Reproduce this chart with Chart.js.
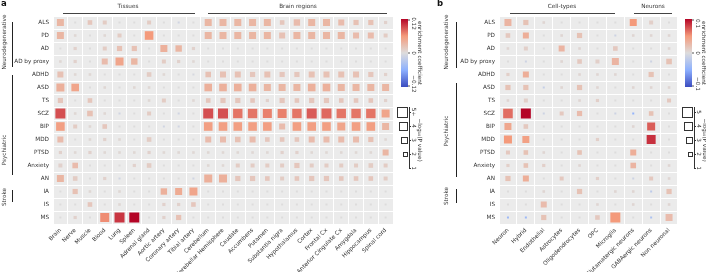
<!DOCTYPE html>
<html>
<head>
<meta charset="utf-8">
<script src="https://cdn.jsdelivr.net/npm/chart.js@4/dist/chart.umd.min.js"></script>
<style>
  body { margin: 0; background: #fff; width: 706px; height: 272px; position: relative; overflow: hidden; }
  #wrap-a { position: absolute; left: 0; top: 0; width: 432px; height: 272px; }
  #wrap-b { position: absolute; left: 432px; top: 0; width: 274px; height: 272px; }
</style>
</head>
<body>
<div id="wrap-a"><canvas id="chart-a"></canvas></div>
<div id="wrap-b"><canvas id="chart-b"></canvas></div>
<script>
const traits = ["ALS", "PD", "AD", "AD by proxy", "ADHD", "ASD", "TS", "SCZ", "BIP", "MDD", "PTSD", "Anxiety", "AN", "IA", "IS", "MS"];

const tissues = ["Brain", "Nerve", "Muscle", "Blood", "Lung", "Spleen", "Adrenal gland", "Aortic artery", "Coronary artery", "Tibial artery",
  "Cerebellum", "Cerebellar Hemisphere", "Caudate", "Accumbens", "Putamen", "Substantia nigra", "Hypothalamus", "Cortex",
  "Frontal Cx", "Anterior Cingulate Cx", "Amygdala", "Hippocampus", "Spinal cord"];

const cellTypes = ["Neuron", "Hybrid", "Endothelial", "Astrocytes", "Oligodendrocytes", "OPC", "Microglia",
  "Glutamatergic neurons", "GABAergic neurons", "Non neuronal"];

// -log10(P) per trait (rows) and tissue (columns)
const tissueLogP = [
  [3.5, 1, 2.3, 2, 1, 1, 2, 1, 1, 1, 3.5, 3.5, 3.5, 3.5, 3.5, 2.3, 3.2, 3.5, 3.5, 3, 2.6, 2.6, 1.6],
  [3.5, 1.3, 1, 1.3, 2, 1, 4.3, 1, 1, 1, 3.5, 3.5, 3.5, 3.5, 3.5, 3, 3.5, 3.5, 3.5, 3.5, 3, 3, 2],
  [1, 1.6, 1, 2, 2.6, 2.6, 1, 3.5, 3.2, 1.6, 1, 1, 1, 1, 1, 1, 1, 1, 1, 1, 1, 1, 1],
  [1.3, 1.6, 1, 3, 4, 3.2, 1, 2, 1.6, 1.3, 1, 1, 1, 1, 1, 1, 1, 1, 1, 1, 1, 1, 1],
  [3, 1.3, 1.3, 1, 1, 1, 2.3, 1.3, 1, 1, 2.8, 3, 3, 2.6, 3, 2.6, 2.6, 3, 3, 3, 3, 2.6, 1.6],
  [4, 3.8, 1, 1.3, 1, 1.3, 1.3, 1, 1, 1, 3.8, 3.8, 3.8, 3.8, 3.5, 3.5, 3.5, 3.8, 3.8, 3.5, 3.5, 3.5, 3.5],
  [2.6, 1, 2.3, 1, 1, 1, 1.3, 2, 1, 1.3, 2.3, 2.6, 2.6, 2.3, 1.6, 2.6, 2.3, 2.6, 2.6, 2.3, 2.3, 2.3, 1.6],
  [5.5, 1.3, 2.8, 1.3, 1, 1, 2, 1, 1, 1, 5.5, 5.5, 4.7, 4.7, 4.5, 4.5, 4.7, 5.5, 5, 4.7, 4.7, 4.7, 4],
  [4.3, 2, 1.3, 2.3, 1, 1, 1, 1, 1, 1, 4.3, 4.3, 4.3, 4.3, 4.3, 3, 4.3, 4.3, 4.3, 4, 4.3, 4.3, 3.5],
  [3, 1, 1.3, 1.6, 1.3, 1, 2.3, 1, 1, 1, 3, 3, 2.8, 3, 2.3, 2.3, 2.3, 3, 3, 3, 3, 2.6, 1.3],
  [1.6, 1.3, 1.6, 1.3, 1.3, 1.3, 1.6, 1.3, 1.3, 1.3, 1.3, 1.3, 1.3, 1.3, 1.3, 1.6, 1.6, 1.3, 1.3, 1.3, 1.3, 1.3, 3],
  [2, 2.8, 1, 1, 1, 1.6, 2.3, 1, 1, 1, 1.3, 1.3, 2, 2, 2, 2, 2.6, 2, 2, 2, 2, 2.3, 2],
  [3.5, 2.3, 1, 1.6, 1, 1, 1, 1, 1, 1, 4, 4, 2.6, 2.6, 2.3, 2, 2.3, 2.6, 2.6, 2.3, 2.3, 2.3, 2],
  [1, 2.6, 1.3, 1, 1.3, 1, 1, 3.2, 3.5, 4, 1, 1, 1, 1, 1, 1, 1, 1, 1, 1, 1, 1, 1],
  [1, 1, 2.3, 1, 1.3, 1, 1, 1.6, 1.6, 2.3, 1, 1, 1, 1, 1, 1, 1, 1, 1, 1, 1, 1, 1],
  [1, 1.6, 1, 4.5, 5, 5, 1, 1.6, 2.6, 1, 1, 1, 1, 1, 1, 1, 1, 1, 1, 1, 1, 1, 1],
];

// enrichment coefficient per trait and tissue
const tissueCoef = [
  [.035, 0, .02, .015, 0, 0, .015, 0, -.01, 0, .035, .035, .035, .035, .035, .02, .03, .035, .035, .03, .025, .025, .01],
  [.035, .005, 0, .005, .015, 0, .06, 0, 0, 0, .035, .035, .035, .035, .035, .025, .035, .035, .035, .035, .03, .03, .015],
  [0, .01, 0, .015, .025, .025, 0, .04, .035, .01, 0, 0, 0, 0, 0, 0, 0, 0, 0, 0, 0, 0, 0],
  [.005, .01, 0, .03, .05, .035, 0, .015, .01, .005, 0, 0, 0, 0, 0, 0, 0, 0, 0, 0, 0, 0, 0],
  [.025, .005, .005, 0, 0, 0, .015, .005, 0, -.005, .025, .025, .025, .02, .025, .02, .02, .025, .025, .025, .025, .02, .01],
  [.04, .05, 0, .005, 0, .005, .005, 0, 0, 0, .04, .04, .04, .04, .035, .035, .035, .04, .04, .035, .035, .035, .035],
  [.02, 0, .02, 0, 0, 0, .005, .015, 0, .005, .02, .02, .02, .02, .01, .02, .02, .02, .02, .02, .02, .02, .01],
  [.09, .005, .025, .005, -.01, 0, .015, 0, -.01, 0, .09, .09, .075, .075, .07, .07, .075, .085, .08, .075, .075, .075, .05],
  [.055, .015, .005, .02, 0, 0, 0, -.01, -.01, 0, .055, .055, .055, .055, .055, .03, .055, .055, .055, .05, .055, .055, .035],
  [.03, 0, .005, .01, .005, 0, .015, 0, 0, 0, .03, .03, .025, .03, .02, .02, .02, .03, .03, .03, .03, .025, .005],
  [.01, .005, .01, .005, .005, .005, .01, .005, .005, .005, .005, .005, .005, .005, .005, .01, .01, .005, .005, .005, .005, .005, .035],
  [.01, .03, 0, 0, 0, .01, .015, 0, 0, 0, .005, .005, .015, .015, .015, .015, .02, .015, .015, .015, .015, .015, .015],
  [.035, .015, 0, .01, -.01, 0, 0, 0, 0, -.01, .04, .04, .02, .02, .02, .015, .02, .02, .02, .02, .02, .02, .015],
  [0, .025, .005, 0, .005, 0, 0, .04, .045, .05, 0, 0, 0, 0, 0, 0, 0, 0, 0, 0, 0, 0, 0],
  [0, 0, .02, 0, .005, 0, 0, .01, .01, .02, 0, 0, 0, 0, 0, 0, 0, 0, 0, 0, 0, 0, 0],
  [0, .01, 0, .065, .1, .12, 0, .01, .025, 0, 0, 0, 0, 0, 0, 0, 0, 0, 0, 0, 0, 0, 0],
];

const cellLogP = [
  [3.5, 2.6, 1.3, 1, 1, 1, 1, 3.5, 2, 1],
  [2.3, 3, 1, 1.3, 2.6, 1, 1, 1.3, 1.3, 1.3],
  [1.3, 2, 1, 3, 1.3, 1, 2.3, 1, 1, 1.3],
  [1, 1, 1, 1.3, 2.3, 2, 3.5, 1, 1, 2.8],
  [1.6, 3, 1, 1, 1.3, 1.3, 1.3, 1, 2.6, 1],
  [2.6, 2.6, 1, 1.3, 2.6, 1.3, 1, 1.3, 1.3, 1.3],
  [1.3, 2, 1, 1, 1.3, 1.6, 1, 1, 1, 2],
  [4.8, 5.5, 1, 2, 2.6, 1, 1, 1, 2.3, 1],
  [3.5, 2.3, 1, 1, 1, 1, 1, 1.3, 4, 1],
  [4, 3.5, 1, 1, 1, 1.6, 1, 1, 4.5, 1],
  [2, 2.3, 1.3, 1, 2.3, 1, 1, 3, 1, 1],
  [1.6, 2.3, 1.6, 1, 1.3, 1, 1, 2.8, 1, 1.3],
  [2.6, 3, 1, 2, 1, 1.6, 1, 1, 2, 1.3],
  [1, 1, 1.3, 1, 2.6, 1, 1.3, 1.3, 1, 2.6],
  [1, 1, 3, 1, 1, 1.3, 1, 1.3, 1, 1.3],
  [1, 1, 2.6, 1, 1, 2.3, 5, 1, 1, 3.5],
];

const cellCoef = [
  [.03, .02, .005, 0, 0, 0, 0, .05, .01, 0],
  [.015, .035, 0, .005, .02, 0, -.01, .005, .005, .005],
  [.005, .01, 0, .03, .005, 0, .015, 0, 0, .005],
  [0, -.01, 0, .005, .015, .01, .03, 0, -.01, .02],
  [.01, .035, 0, 0, .005, .005, .005, 0, .02, 0],
  [.02, .02, -.015, .005, .02, .005, 0, .005, .005, .005],
  [.005, .01, 0, 0, .005, .01, 0, 0, 0, .015],
  [.065, .1, -.01, .015, .025, 0, -.01, -.045, .02, 0],
  [.04, .015, 0, 0, 0, 0, 0, .005, .07, 0],
  [.05, .045, 0, 0, 0, .01, 0, 0, .085, 0],
  [.015, .02, .005, 0, .02, 0, 0, .035, 0, 0],
  [.01, .02, .01, 0, .005, 0, 0, .03, 0, .005],
  [.02, .035, 0, .015, 0, .01, 0, -.01, .015, .005],
  [0, 0, .005, 0, .02, 0, .005, .005, -.02, .02],
  [0, 0, .025, 0, 0, .005, 0, .005, 0, .005],
  [-.04, -.04, .02, 0, 0, .015, .05, 0, -.03, .025],
];

const sizeLegendA = ["5+", "4", "3", "2", "1"];
const sizeLegendB = ["5", "4", "3", "2", "1"];

const FAMILY = "'DejaVu Sans', sans-serif";
const FS = 5.7;
const TEXT = "#333";

const stops = [[59, 76, 192], [141, 176, 254], [221, 220, 220], [244, 154, 123], [180, 4, 38]];
const coolwarm = (t) => {
  t = Math.max(0, Math.min(1, t));
  const s = t * 4;
  const i = Math.min(3, Math.floor(s));
  const f = s - i;
  const a = stops[i], b = stops[i + 1];
  const c = a.map((v, k) => Math.round(v + (b[k] - v) * f));
  return `rgb(${c[0]},${c[1]},${c[2]})`;
};

const buildPoints = (cols, logp, coef) => {
  const pts = [];
  traits.forEach((tr, r) => {
    cols.forEach((col, c) => {
      pts.push({ x: col, y: tr, p: logp[r][c], coef: coef[r][c] });
    });
  });
  return pts;
};

// gray panel behind the cells
const panelBg = {
  id: "panelBg",
  beforeDraw(chart) {
    const { ctx, chartArea: a } = chart;
    ctx.save();
    ctx.fillStyle = "#ebebeb";
    ctx.fillRect(a.left, a.top, a.right - a.left, a.bottom - a.top);
    ctx.restore();
  },
};

const vText = (ctx, txt, x, y, rot) => {
  ctx.save();
  ctx.translate(x, y);
  ctx.rotate(rot);
  ctx.textAlign = "center";
  ctx.textBaseline = "middle";
  ctx.fillText(txt, 0, 0);
  ctx.restore();
};

const line = (ctx, x1, y1, x2, y2) => {
  ctx.beginPath();
  ctx.moveTo(x1, y1);
  ctx.lineTo(x2, y2);
  ctx.stroke();
};

const makeDecor = (d) => ({
  id: "decor",
  afterDraw(chart) {
    const ctx = chart.ctx;
    ctx.save();
    ctx.translate(-d.ox, 0);
    ctx.fillStyle = "#111";
    ctx.font = `bold 8.5px ${FAMILY}`;
    ctx.textAlign = "left";
    ctx.textBaseline = "top";
    ctx.fillText(d.letter, d.letterX, 0);

    ctx.font = `${FS}px ${FAMILY}`;
    ctx.fillStyle = TEXT;
    ctx.strokeStyle = "#444";
    ctx.lineWidth = 1;
    d.topGroups.forEach((g) => {
      line(ctx, g.x1, 13.5, g.x2, 13.5);
      ctx.textAlign = "center";
      ctx.textBaseline = "middle";
      ctx.fillText(g.name, g.tx, 6.5);
    });
    ctx.strokeStyle = "#222";
    d.sideGroups.forEach((g) => {
      line(ctx, d.sideX + 0.5, g.y1, d.sideX + 0.5, g.y2);
      vText(ctx, g.name, d.sideTextX, g.ty, -Math.PI / 2);
    });

    // colour bar
    const cb = d.cbar;
    const grad = ctx.createLinearGradient(0, cb.y0, 0, cb.y1);
    for (let i = 0; i <= 20; i++) grad.addColorStop(i / 20, coolwarm(1 - i / 20));
    ctx.fillStyle = grad;
    ctx.fillRect(cb.x, cb.y0, cb.w, cb.y1 - cb.y0);
    ctx.fillStyle = TEXT;
    ctx.strokeStyle = "#555";
    const mid = (cb.y0 + cb.y1) / 2;
    [[cb.y0 + 1, cb.ticks[0]], [mid, cb.ticks[1]], [cb.y1 - 1, cb.ticks[2]]].forEach(([y, t], i) => {
      line(ctx, cb.x + cb.w, y, cb.x + cb.w + 2, y);
      const ty = i === 0 ? cb.y0 + 4.5 : i === 2 ? cb.y1 - 3 : mid;
      vText(ctx, t, cb.x + cb.w + 5, ty, Math.PI / 2);
    });
    vText(ctx, "enrichment coefficient", cb.x + cb.w + 11, mid, Math.PI / 2);

    // size legend
    const sl = d.sizeLeg;
    ctx.strokeStyle = "#333";
    ctx.lineWidth = 1;
    line(ctx, sl.axisX + 0.5, sl.y0 - 5, sl.axisX + 0.5, sl.y0 + 4 * sl.step + 1);
    sl.labels.forEach((lab, i) => {
      const y = sl.y0 + i * sl.step;
      const v = 5 - i;
      const side = 2 * v;
      if (v > 1) ctx.strokeRect(sl.axisX - 2 - side + 0.5, y - side / 2 + 0.5, side, side);
      line(ctx, sl.axisX, y + 0.5, sl.axisX + 2, y + 0.5);
      vText(ctx, lab, sl.axisX + 4.5, y, Math.PI / 2);
    });
    vText(ctx, "\u2212log\u2081\u2080(P value)", sl.axisX + 10.5, sl.y0 + 2 * sl.step, Math.PI / 2);
    ctx.restore();
  },
});

const makeChart = (id, cols, logp, coef, yWidth, padRight, decor) => {
  const ctx = document.getElementById(id).getContext("2d");
  return new Chart(ctx, {
    type: "scatter",
    data: {
      datasets: [
        {
          data: buildPoints(cols, logp, coef),
          pointStyle: "rect",
          pointRadius: (c) => (2 * Math.min(c.raw.p, 5)) / Math.SQRT2,
          pointBackgroundColor: (c) => coolwarm(0.5 + c.raw.coef / (2 * decor.cmax)),
          pointBorderWidth: 0,
          pointHoverRadius: (c) => (2 * Math.min(c.raw.p, 5)) / Math.SQRT2,
        },
      ],
    },
    options: {
      responsive: true,
      maintainAspectRatio: false,
      animation: false,
      events: [],
      layout: { padding: { top: 16, right: padRight, left: 0, bottom: 0 } },
      plugins: { legend: { display: false }, tooltip: { enabled: false } },
      scales: {
        x: {
          type: "category",
          labels: cols,
          offset: true,
          grid: { color: "#fff", lineWidth: 1, offset: true, drawTicks: false },
          border: { display: false },
          ticks: {
            autoSkip: false,
            minRotation: 45,
            maxRotation: 45,
            padding: 3,
            color: TEXT,
            font: { family: FAMILY, size: FS },
          },
          afterFit: (s) => { s.height = 48; },
        },
        y: {
          type: "category",
          labels: traits,
          offset: true,
          grid: { color: "#fff", lineWidth: 1, offset: true, drawTicks: false },
          border: { display: false },
          ticks: { padding: 4, color: TEXT, font: { family: FAMILY, size: FS } },
          afterFit: (s) => { s.width = yWidth; },
        },
      },
    },
    plugins: [panelBg, makeDecor(decor)],
  });
};

makeChart("chart-a", tissues, tissueLogP, tissueCoef, 53, 39, {
  ox: 0,
  cmax: 0.12,
  letter: "a",
  letterX: 1,
  topGroups: [
    { name: "Tissues", x1: 63, x2: 195, tx: 128 },
    { name: "Brain regions", x1: 208, x2: 387, tx: 298 },
  ],
  sideX: 12,
  sideTextX: 5,
  sideGroups: [
    { name: "Neurodegenerative", y1: 22, y2: 67, ty: 42 },
    { name: "Psychiatric", y1: 75, y2: 175, ty: 150 },
    { name: "Stroke", y1: 190, y2: 202, ty: 197 },
  ],
  cbar: { x: 401, w: 7, y0: 19, y1: 87, ticks: ["0.12", "0", "\u22120.12"] },
  sizeLeg: { axisX: 409, y0: 112, step: 14, labels: sizeLegendA },
});

makeChart("chart-b", cellTypes, cellLogP, cellCoef, 67, 28, {
  ox: 432,
  cmax: 0.1,
  letter: "b",
  letterX: 437,
  topGroups: [
    { name: "Cell-types", x1: 510, x2: 615, tx: 562 },
    { name: "Neurons", x1: 634, x2: 672, tx: 653 },
  ],
  sideX: 456,
  sideTextX: 447,
  sideGroups: [
    { name: "Neurodegenerative", y1: 22, y2: 68, ty: 42 },
    { name: "Psychiatric", y1: 83, y2: 177, ty: 131 },
    { name: "Stroke", y1: 189, y2: 203, ty: 196 },
  ],
  cbar: { x: 685, w: 7, y0: 19, y1: 87, ticks: ["0.1", "0", "\u22120.1"] },
  sizeLeg: { axisX: 694, y0: 112, step: 14, labels: sizeLegendB },
});
</script>
</body>
</html>
